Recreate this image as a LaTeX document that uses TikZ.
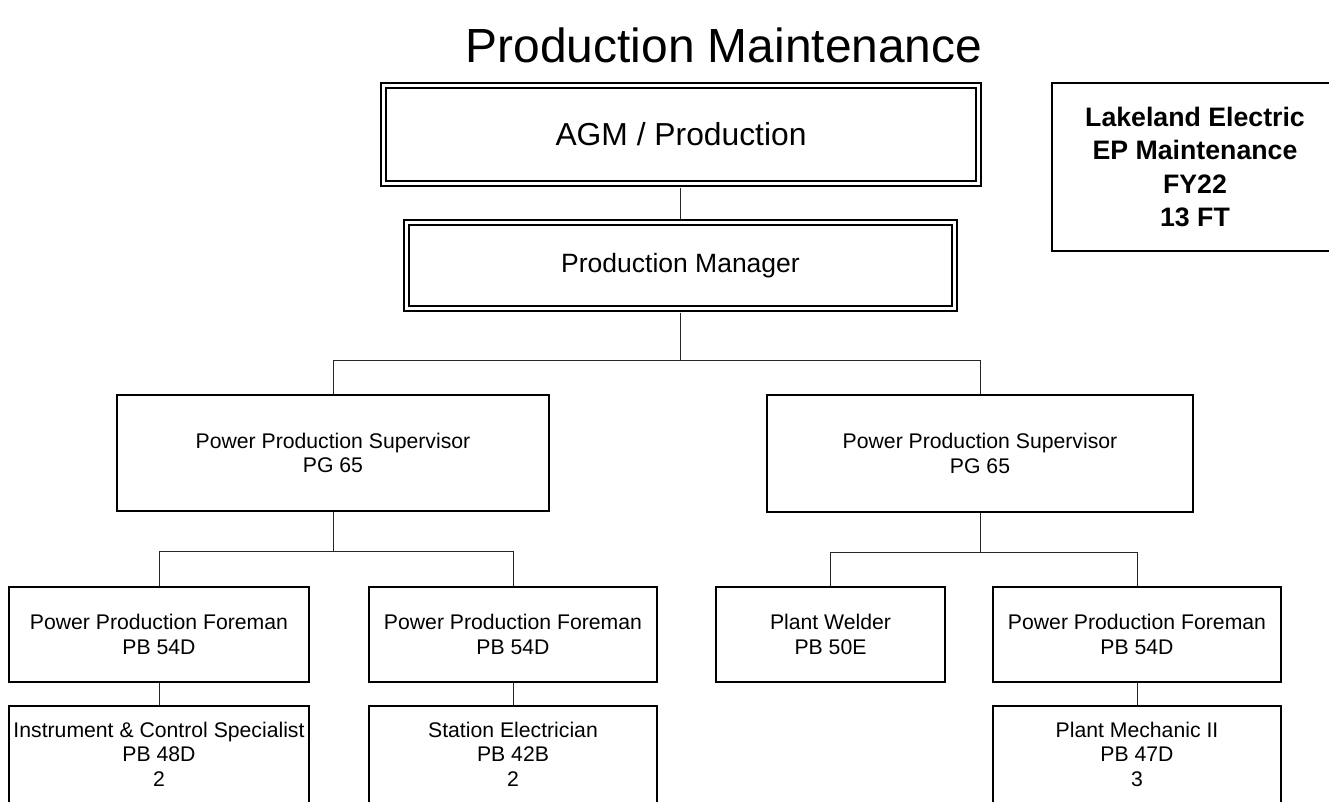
\documentclass[tikz,border=0pt]{standalone}
\usepackage{fontspec}
\setmainfont{Liberation Sans}
\begin{document}
\begin{tikzpicture}[x=1pt,y=-1pt,
  box/.style={draw=black, line width=1.5pt, rectangle, inner sep=0pt, align=center, font=\fontsize{21.2}{24.5}\selectfont},
  dbox/.style={draw=black, line width=1.5pt, double=white, double distance=3.5pt, rectangle, inner sep=0pt, align=center},
  conn/.style={draw=black!85, line width=1pt}]
\useasboundingbox (0,0) rectangle (1329,801);
\fill[white] (0,0) rectangle (1329,801);
\clip (0,0) rectangle (1329,801);

\node (title) [font=\fontsize{47.9}{50}\selectfont, anchor=base, inner sep=0pt] at (724,62) {Production Maintenance};

\node (agm) [dbox, minimum width=595pt, minimum height=98pt, font=\fontsize{31.8}{36}\selectfont] at (681,134.5) {AGM / Production};
\node (pm) [dbox, minimum width=548pt, minimum height=86pt, font=\fontsize{26.5}{30}\selectfont] at (680.5,265.5) {Production Manager};

\node (info) [box, minimum width=284pt, minimum height=168pt] at (1194,167) {};
\node (infotext) [font=\bfseries\fontsize{26.7}{33.5}\selectfont, align=center, inner sep=0pt] at (1195,167) {Lakeland Electric\\EP Maintenance\\FY22\\13 FT};

\node (supL) [box, minimum width=432pt, minimum height=116pt] at (333,453) {Power Production Supervisor\\PG 65};
\node (supR) [box, minimum width=426pt, minimum height=117pt] at (980,453.5) {Power Production Supervisor\\PG 65};

\node (f1) [box, minimum width=300pt, minimum height=95pt] at (159,634.5) {Power Production Foreman\\PB 54D};
\node (f2) [box, minimum width=288pt, minimum height=95pt] at (513,634.5) {Power Production Foreman\\PB 54D};
\node (pw) [box, minimum width=229pt, minimum height=95pt] at (830.5,634.5) {Plant Welder\\PB 50E};
\node (f3) [box, minimum width=288pt, minimum height=95pt] at (1137,634.5) {Power Production Foreman\\PB 54D};

\node (b1) [box, minimum width=300pt, minimum height=108pt] at (159,760) {Instrument \& Control Specialist\\PB 48D\\2\rule[-12pt]{0pt}{12pt}};
\node (b2) [box, minimum width=288pt, minimum height=108pt] at (513,760) {Station Electrician\\PB 42B\\2\rule[-12pt]{0pt}{12pt}};
\node (b3) [box, minimum width=288pt, minimum height=108pt] at (1137,760) {Plant Mechanic II\\PB 47D\\3\rule[-12pt]{0pt}{12pt}};

\draw[conn] ([yshift=-3.25pt]agm.south -| pm.north) -- ([yshift=3.25pt]pm.north);
\draw[conn] ([yshift=-3.25pt]pm.south) -- ++(0,48) -| (supL.north);
\draw[conn] ([yshift=-3.25pt]pm.south) -- ++(0,48) -| (supR.north);
\draw[conn] (supL.south) -- ++(0,40) -| (f1.north);
\draw[conn] (supL.south) -- ++(0,40) -| (f2.north);
\draw[conn] (supR.south) -- ++(0,39.5) -| (pw.north);
\draw[conn] (supR.south) -- ++(0,39.5) -| (f3.north);
\draw[conn] (f1.south) -- (b1.north);
\draw[conn] (f2.south) -- (b2.north);
\draw[conn] (f3.south) -- (b3.north);
\end{tikzpicture}
\end{document}
